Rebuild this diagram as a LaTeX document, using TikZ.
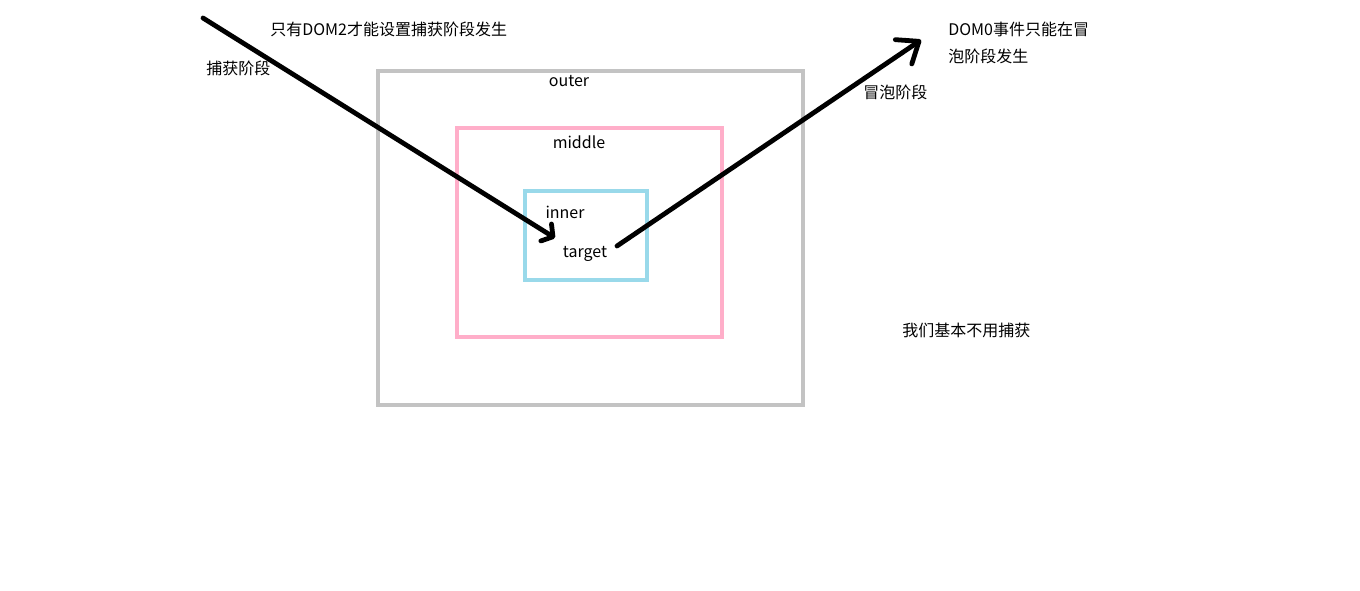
\documentclass[tikz,border=0pt]{standalone}
\usepackage{fontspec}
\setmainfont{Noto Sans CJK SC}
\usetikzlibrary{arrows.meta}
\definecolor{outerc}{RGB}{195,195,195}
\definecolor{middlec}{RGB}{255,174,201}
\definecolor{innerc}{RGB}{153,217,234}
\tikzset{
  box/.style={line width=3pt},
  lbl/.style={inner sep=0pt, font=\fontsize{12}{14}\selectfont, text=black},
  lblw/.style={lbl, anchor=west},
  bigarrow/.style={line width=3.6pt, line cap=round, line join=round},
}
\begin{document}
\begin{tikzpicture}[x=0.75pt,y=-0.75pt]
\useasboundingbox (0,0) rectangle (1360,591);
\fill[white] (0,0) rectangle (1360,591);
% boxes
\draw[box, outerc] (378,71) rectangle (803,405);
\draw[box, middlec] (457,128) rectangle (722,337);
\draw[box, innerc] (525,191) rectangle (647,280);
% labels in boxes
\node[lbl] (outer) at (569,81) {outer};
\node[lbl] (middle) at (579,142) {middle};
\node[lbl] (inner) at (565,212) {inner};
\node[lbl] (target) at (585,254) {target};
% side labels
\node[lblw] (dom2) at (270,29) {只有DOM2才能设置捕获阶段发生};
\node[lblw] (capture) at (206,68) {捕获阶段};
\node[lblw] (bubble) at (863,92) {冒泡阶段};
\node[lblw] (dom0a) at (948,29) {DOM0事件只能在冒};
\node[lblw] (dom0b) at (948,56) {泡阶段发生};
\node[lblw] (note) at (902,330) {我们基本不用捕获};
% arrows
\coordinate (c1start) at (203,18);
\coordinate (c1end) at (555,238);
\coordinate (b1start) at (617,246);
\coordinate (b1end) at (921,40);
\draw[bigarrow, -{Straight Barb[length=6pt,width=15pt,line cap=round,line join=round]}] (c1start) -- (c1end);
\draw[bigarrow, -{Straight Barb[length=14pt,width=22pt,line cap=round,line join=round]}] (b1start) -- (b1end);
\end{tikzpicture}
\end{document}
